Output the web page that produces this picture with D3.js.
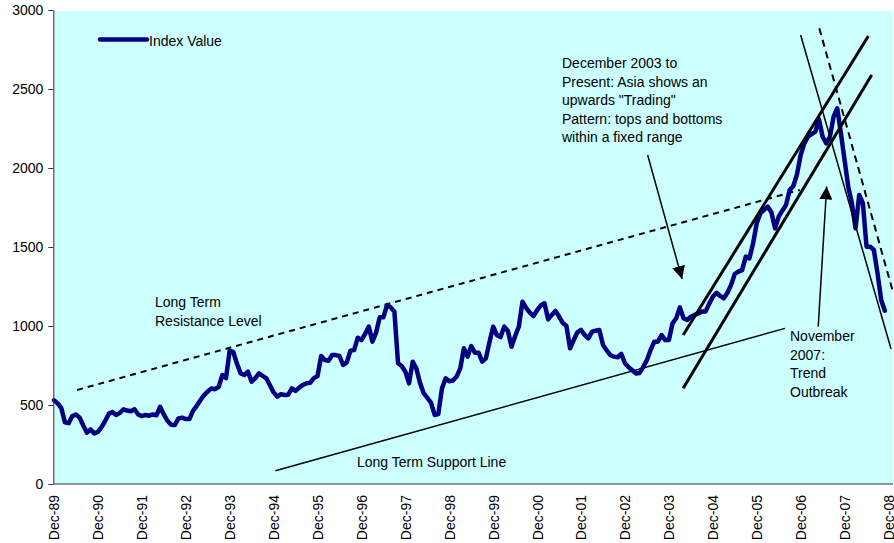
<!DOCTYPE html>
<html><head><meta charset="utf-8">
<script src="https://cdn.jsdelivr.net/npm/d3@7"></script>
<style>
html,body{margin:0;padding:0;background:#fff;}
svg{display:block;font-family:"Liberation Sans",Arial,sans-serif;}
</style></head>
<body><svg id="c" width="894" height="543"></svg>
<script>
// Monthly index values, Dec-89 (index 0) through Nov-08 (index 227)
const indexValues = [
530,510,480,390,385,430,440,420,370,325,345,320,
330,360,400,445,455,437,450,473,465,460,473,440,
430,437,432,440,435,489,440,400,375,373,415,420,
411,411,465,495,530,563,585,605,600,615,690,670,
844,835,760,700,690,711,648,670,700,685,669,625,
580,553,568,563,565,605,589,610,627,638,641,670,
683,810,785,780,816,816,810,753,770,844,848,926,
911,950,996,901,958,1055,1055,1133,1118,1091,764,747,
711,637,774,732,640,575,545,515,437,443,605,669,
650,655,680,732,859,806,873,831,831,774,795,900,
996,943,930,996,970,869,937,996,1154,1115,1085,1063,
1100,1130,1144,1042,1070,1095,1060,1020,1000,859,911,960,
975,943,922,964,970,975,880,845,815,806,802,823,
764,739,720,700,703,740,785,848,901,901,943,911,
911,1017,1049,1118,1049,1038,1059,1070,1080,1091,1091,1140,
1185,1210,1190,1175,1210,1260,1330,1344,1354,1439,1428,1523,
1650,1713,1735,1755,1720,1618,1692,1730,1766,1861,1886,1960,
2082,2156,2198,2215,2230,2308,2198,2156,2198,2325,2378,2220,
2050,1882,1777,1618,1829,1777,1502,1502,1481,1334,1165,1097
];
const xTickLabels = ["Dec-89","Dec-90","Dec-91","Dec-92","Dec-93","Dec-94","Dec-95","Dec-96","Dec-97","Dec-98","Dec-99","Dec-00","Dec-01","Dec-02","Dec-03","Dec-04","Dec-05","Dec-06","Dec-07","Dec-08"];
const yTicks = [0,500,1000,1500,2000,2500,3000];
const seriesName = "Index Value";

// Trend lines drawn on the chart, as [month index, value] endpoints
const resistanceLine = [[6.3,595],[203.8,1861]];
const supportLine = [[60.5,84],[199.7,985]];
const channelUpper = [[171.9,943],[222.5,2835]];
const channelLower = [[171.9,606],[223.4,2589]];
const breakLineSolid = [[204,2842],[228.7,854]];
const breakLineDashed = [[209.1,2884],[229.2,1217]];
const arrowTrading = [[162.2,2082],[171.6,1297]];
const arrowOutbreak = [[208.8,996],[211.1,1883]];

const notes = [
  {lines:["December 2003 to","Present: Asia shows an","upwards \"Trading\"","Pattern: tops and bottoms","within a fixed range"], x:562, y:68},
  {lines:["Long Term","Resistance Level"], x:155, y:307},
  {lines:["Long Term Support Line"], x:357, y:467},
  {lines:["November","2007:","Trend","Outbreak"], x:790, y:341}
];

(function(){
const svg = d3.select("#c");
const pLeft = 53.3, pRight = 893, pTop = 11, pBottom = 484;
const x = d3.scaleLinear().domain([0,228]).range([54,888.5]);
const y = d3.scaleLinear().domain([0,3000]).range([pBottom,10]);

svg.append("rect").attr("x",pLeft).attr("y",pTop).attr("width",pRight-pLeft).attr("height",pBottom-pTop).attr("fill","#ccffff");

const ln = d3.line().x(d=>x(d[0])).y(d=>y(d[1]));

svg.append("defs").append("marker")
  .attr("id","ah").attr("viewBox","0 0 10 10").attr("refX",10).attr("refY",5)
  .attr("markerWidth",13).attr("markerHeight",13).attr("markerUnits","userSpaceOnUse")
  .attr("orient","auto")
  .append("path").attr("d","M0,0L10,5L0,10Z").attr("fill","#000");

const g = svg.append("g");
g.append("path").attr("d",ln(resistanceLine)).attr("stroke","#000").attr("stroke-width",2).attr("stroke-dasharray","6,5").attr("fill","none");
g.append("path").attr("d",ln(supportLine)).attr("stroke","#000").attr("stroke-width",1.5).attr("fill","none");

g.append("path").datum(indexValues)
  .attr("d", d3.line().x((d,i)=>x(i)).y(d=>y(d)))
  .attr("fill","none").attr("stroke","#000080").attr("stroke-width",4.5).attr("stroke-linejoin","round").attr("stroke-linecap","round");

g.append("path").attr("d",ln(channelUpper)).attr("stroke","#000").attr("stroke-width",3).attr("fill","none");
g.append("path").attr("d",ln(channelLower)).attr("stroke","#000").attr("stroke-width",3).attr("fill","none");
g.append("path").attr("d",ln(breakLineSolid)).attr("stroke","#000").attr("stroke-width",1.5).attr("fill","none");
g.append("path").attr("d",ln(breakLineDashed)).attr("stroke","#000").attr("stroke-width",2).attr("stroke-dasharray","7,5").attr("fill","none");
g.append("path").attr("d",ln(arrowTrading)).attr("stroke","#000").attr("stroke-width",1.5).attr("fill","none").attr("marker-end","url(#ah)");
g.append("path").attr("d",ln(arrowOutbreak)).attr("stroke","#000").attr("stroke-width",1.5).attr("fill","none").attr("marker-end","url(#ah)");

notes.forEach(n=>{
  const t = svg.append("text").attr("font-size",14).attr("fill","#000");
  n.lines.forEach((l,i)=>t.append("tspan").attr("x",n.x).attr("y",n.y+i*18.5).text(l));
});

svg.append("line").attr("x1",100).attr("x2",147).attr("y1",39.5).attr("y2",39.5).attr("stroke","#000080").attr("stroke-width",4.5).attr("stroke-linecap","round");
svg.append("text").attr("x",149).attr("y",46).attr("font-size",14).text(seriesName);

const ya = svg.append("g").attr("transform",`translate(${pLeft},0)`)
  .call(d3.axisLeft(y).tickValues(yTicks).tickSize(5).tickSizeOuter(0).tickPadding(5).tickFormat(d3.format("d")));
ya.select(".domain").attr("stroke","#333");
ya.selectAll(".tick line").attr("stroke","#333");
ya.selectAll("text").attr("font-size",14).attr("font-family","'Liberation Sans',Arial,sans-serif").attr("fill","#000");

const xa = svg.append("g").attr("transform",`translate(0,${pBottom})`)
  .call(d3.axisBottom(x).tickValues(d3.range(0,229,12)).tickSize(0).tickSizeOuter(0).tickFormat((d,i)=>xTickLabels[i]));
xa.select(".domain").attr("d",`M${pLeft},0H${pRight}`).attr("stroke","#333");
xa.selectAll("text").attr("font-size",14).attr("font-family","'Liberation Sans',Arial,sans-serif").attr("fill","#000")
  .attr("transform","rotate(-90)").attr("text-anchor","end").attr("x",-11).attr("y",0).attr("dy","0.35em");
})();
</script></body></html>
